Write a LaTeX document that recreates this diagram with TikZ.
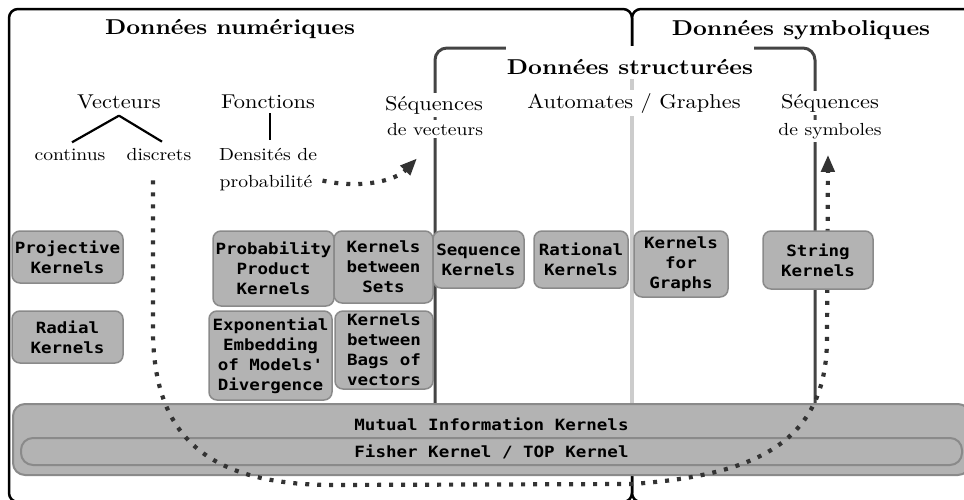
\documentclass[tikz,border=0pt]{standalone}
\usepackage{fontspec}
\setmainfont{lmroman10-regular}[Extension=.otf, BoldFont=lmroman10-bold, FakeStretch=1.12]
\newfontfamily\kmono{DejaVu Sans Mono}[FakeStretch=1.13,Ligatures=TeXOff]
\usetikzlibrary{arrows.meta}
\definecolor{boxfill}{HTML}{B3B3B3}
\definecolor{boxline}{HTML}{8A8A8A}
\definecolor{sepgray}{HTML}{CCCCCC}
\definecolor{dotcol}{HTML}{333333}
\definecolor{sframecol}{HTML}{444444}
\begin{document}
\begin{tikzpicture}[x=1pt,y=-1pt,
  frame/.style={draw=black, line width=2.5pt, rounded corners=9pt},
  sframe/.style={draw=sframecol, line width=3pt, rounded corners=12pt},
  conn/.style={draw=black, line width=2.2pt},
  kbox/.style={draw=boxline, fill=boxfill, line width=1.5pt, rounded corners=8pt,
    inner sep=0pt, align=center, font=\kmono\bfseries\fontsize{15.5}{20}\selectfont},
  ttl/.style={anchor=base, inner sep=0pt, font=\bfseries\fontsize{21.5}{26}\selectfont},
  big/.style={anchor=base, inner sep=0pt, font=\fontsize{20}{24}\selectfont},
  sml/.style={anchor=base, inner sep=0pt, font=\fontsize{17.5}{21}\selectfont},
  wbg/.style={fill=white, inner sep=3pt},
  dots/.style={draw=dotcol, line width=4.2pt, dash pattern=on 4pt off 8pt},
  tip/.style={-{Triangle[length=17pt,width=13pt]}}
]
\useasboundingbox (0,0) rectangle (964,499);
\begin{scope}
\clip (0,0) rectangle (964,499);
% outer frames
\draw[frame] (9,9) rectangle (632,502);
\draw[frame] (632,9) rectangle (990,502);
% light separator inside structured data
\draw[sepgray, line width=3.5pt] (632,49) -- (632,404);
% structured data frame
\draw[sframe] (435,48) rectangle (815,430);
\end{scope}

% titles
\node[ttl] (numer) at (230,34) {Données numériques};
\node[ttl] (symb) at (801,35) {Données symboliques};
\node[ttl, fill=white, inner xsep=1pt, text height=28pt, text depth=5pt] (struct) at (630,74) {Données structurées};

% categories
\node[big] (vec) at (119,108) {Vecteurs};
\node[big] (fonc) at (268,108) {Fonctions};
\node[big, wbg] (seqv1) at (434,110) {Séquences};
\node[sml, wbg] (seqv) at (435,135) {de vecteurs};
\node[big, wbg] (auto) at (634,108) {Automates / Graphes};
\node[big, wbg] (seqs1) at (830,108) {Séquences};
\node[sml, wbg] (seqs) at (830,135) {de symboles};

\node[sml] (cont) at (70,160) {continus};
\node[sml] (disc) at (159,160) {discrets};
\node[sml] (dens) at (268,160) {Densités de};
\node[sml] (prob) at (266,187) {probabilité};

\draw[conn] ([yshift=-7pt]vec.south) -- ([xshift=2pt,yshift=6pt]cont.north);
\draw[conn] ([yshift=-7pt]vec.south) -- ([xshift=3pt,yshift=6pt]disc.north);
\draw[conn] ([xshift=2pt,yshift=-5pt]fonc.south) -- ([xshift=2pt,yshift=8pt]dens.north);

% bottom boxes
\node[kbox, anchor=base, minimum width=957pt, text height=26pt, text depth=45pt,
  rounded corners=12pt, line width=2pt] (mutual) at (491.5,430) {Mutual Information Kernels};
\node[kbox, minimum width=941pt, minimum height=27pt, rounded corners=12pt,
  line width=2pt] (fisher) at (491.5,451.5) {Fisher Kernel / TOP Kernel};

% dotted arrows
\draw[dots, tip] ([xshift=10pt,yshift=2pt]prob.east) .. controls (360,189) and (395,181) .. ([xshift=-18pt,yshift=-20pt]seqv.south);
\draw[dots, tip] ([xshift=-6pt,yshift=-20pt]disc.south) -- (153,335)
  .. controls (155,430) and (200,484) .. (330,485) -- (632,484)
  .. controls (760,475) and (826,440) .. (827,340)
  -- ([xshift=-2pt,yshift=-13pt]seqs.south);

% kernel boxes
\node[kbox, minimum width=111pt, minimum height=52pt] (proj) at (67.5,257) {Projective\\Kernels};
\node[kbox, minimum width=111pt, minimum height=52pt] (radial) at (67.5,337) {Radial\\Kernels};
\node[kbox, minimum width=121pt, minimum height=75pt] (ppk) at (273.5,268.5) {Probability\\Product\\Kernels};
\node[kbox, minimum width=99pt, minimum height=72pt] (sets) at (383.5,267) {Kernels\\between\\Sets};
\node[kbox, minimum width=123pt, minimum height=89pt] (expo) at (270.5,355.5) {Exponential\\Embedding\\of Models'\\Divergence};
\node[kbox, minimum width=98pt, minimum height=78pt] (bags) at (384,350) {Kernels\\between\\Bags of\\vectors};
\node[kbox, minimum width=91pt, minimum height=57pt] (seqk) at (478.5,259.5) {Sequence\\Kernels};
\node[kbox, minimum width=94pt, minimum height=57pt] (rat) at (581,259.5) {Rational\\Kernels};
\node[kbox, minimum width=94pt, minimum height=66pt] (graphs) at (681,264) {Kernels\\for\\Graphs};
\node[kbox, minimum width=110pt, minimum height=58pt] (string) at (818,260) {String\\Kernels};
\end{tikzpicture}
\end{document}
